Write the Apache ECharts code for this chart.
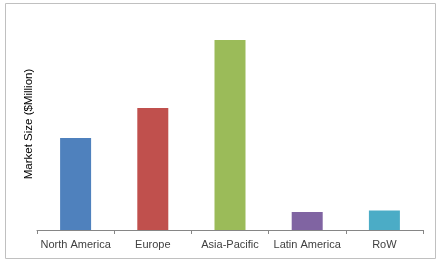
<!DOCTYPE html>
<html><head><meta charset="utf-8">
<script src="https://cdn.jsdelivr.net/npm/echarts@6/dist/echarts.min.js"></script>
<style>html,body{margin:0;padding:0;background:#fff}#c{width:439px;height:264px}</style>
</head><body><div id="c"></div>
<script>
const categories = ["North America", "Europe", "Asia-Pacific", "Latin America", "RoW"];
const values = [92, 122, 190, 18, 19.5];
const colors = ["#4F81BD", "#C0504D", "#9BBB59", "#8064A2", "#4BACC6"];
const yName = "Market Size ($Million)";

const chart = echarts.init(document.getElementById('c'));
chart.setOption({
  animation: false,
  graphic: [
    {type: 'rect', shape: {x: 5.5, y: 3.5, width: 430, height: 255}, style: {fill: 'none', stroke: '#c0c0c0', lineWidth: 1}},
    {type: 'text', x: 29, y: 124, rotation: Math.PI / 2,
     style: {text: yName, fill: '#000', font: '11.5px "Liberation Sans"', align: 'center', verticalAlign: 'middle'}}
  ],
  grid: {left: 37, right: 16, top: 30, bottom: 34},
  xAxis: {
    type: 'category', data: categories,
    axisLine: {lineStyle: {color: '#868686'}},
    axisTick: {show: true, length: 4, lineStyle: {color: '#868686'}},
    axisLabel: {color: '#404040', fontFamily: 'Liberation Sans', fontSize: 11, margin: 9, interval: 0}
  },
  yAxis: {
    type: 'value', min: 0, max: 200,
    axisLine: {show: false}, axisTick: {show: false}, axisLabel: {show: false}, splitLine: {show: false}
  },
  series: [{
    type: 'bar', barWidth: 31,
    data: values.map((v, i) => ({value: v, itemStyle: {color: colors[i]}}))
  }]
});
</script></body></html>
